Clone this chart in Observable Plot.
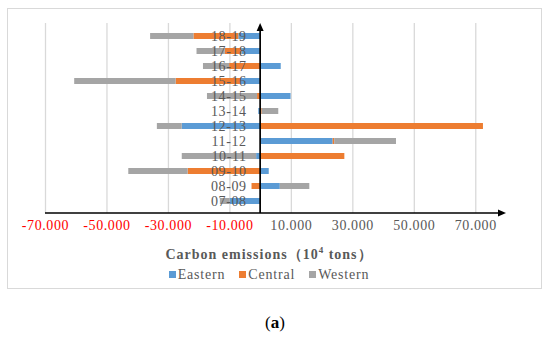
<!DOCTYPE html>
<html><head><meta charset="utf-8">
<script src="https://cdn.jsdelivr.net/npm/d3@7"></script>
<script src="https://cdn.jsdelivr.net/npm/@observablehq/plot@0.6"></script>
<style>
  body{margin:0;background:#fff;font-family:"Liberation Serif",serif;}
  #wrap{position:relative;width:550px;height:343px;overflow:hidden;background:#fff}
  #frame{position:absolute;left:7px;top:8px;width:535px;height:281px;border:1px solid #d9d9d9;box-sizing:border-box}
  #chart{position:absolute;left:0;top:0}
  #xtitle{position:absolute;left:0;top:246px;width:538px;text-align:center;line-height:18px;font-size:14px;font-weight:bold;color:#595959;letter-spacing:1px}
  #legend{position:absolute;left:0;top:266px;width:538px;text-align:center;line-height:18px;font-size:14px;color:#595959;letter-spacing:0.8px}
  #legend .item{display:inline-block;margin:0 7px}
  #legend .sw{display:inline-block;width:7px;height:7px;margin-right:2px;vertical-align:1px}
  #cap{position:absolute;left:0;top:312px;width:550px;text-align:center;line-height:22px;font-size:17px;color:#000}
</style>
</head><body>
<div id="wrap">
  <div id="frame"></div>
  <div id="chart"></div>
  <div id="xtitle">Carbon emissions（10<sup style="font-size:9px;vertical-align:6px;line-height:0">4</sup> tons）</div>
  <div id="legend"></div>
  <div id="cap">(<b>a</b>)</div>
</div>
<script>
const years = ["07-08","08-09","09-10","10-11","11-12","12-13","13-14","14-15","15-16","16-17","17-18","18-19"];
const eastern = [-9900, 6400, 2800, -1300, 23600, -25500, -600, 9900, -6500, 6700, -6100, -7100];
const central = [0, -2800, -23600, 27400, 500, 72500, 500, -1000, -21000, -10100, -5400, -14600];
const western = [-3200, 9600, -19300, -24200, 20100, -8100, 5400, -16300, -33000, -8500, -9200, -14100];
const seriesNames = ["Eastern", "Central", "Western"];
const seriesColors = ["#5b9bd5", "#ed7d31", "#a5a5a5"];
const gridTicks = [-70000, -50000, -30000, -10000, 10000, 30000, 50000, 70000];

const seriesValues = [eastern, central, western];
const rows = [];
years.forEach((yr, i) => {
  seriesNames.forEach((s, j) => rows.push({year: yr, series: s, value: seriesValues[j][i]}));
});
const fmt = d => d3.format(",")(d).replace(/,/g, ".").replace("\u2212", "-");

const plot = Plot.plot({
  width: 550, height: 245,
  marginLeft: 45, marginRight: 44, marginTop: 23, marginBottom: 32,
  style: {fontFamily: '"Liberation Serif", serif', fontSize: "14px", background: "transparent", overflow: "visible", letterSpacing: "0.6px"},
  x: {domain: [-70000, 80000], axis: null},
  y: {domain: years.slice().reverse(), axis: null, paddingInner: 0.62, paddingOuter: 0.31},
  color: {domain: seriesNames, range: seriesColors},
  marks: [
    Plot.ruleX(gridTicks, {stroke: "#d9d9d9", strokeWidth: 1.3}),
    Plot.barX(rows, Plot.stackX({x: "value", y: "year", fill: "series", order: seriesNames})),
    Plot.text(years, {x: () => 0, y: d => d, text: d => d, textAnchor: "end", dx: -14, fill: "#595959"}),
    Plot.text(gridTicks.filter(d => d < 0), {x: d => d, text: fmt, frameAnchor: "bottom", dy: 16, fill: "#ff0000"}),
    Plot.text(gridTicks.filter(d => d > 0), {x: d => d, text: fmt, frameAnchor: "bottom", dy: 16, fill: "#595959"})
  ]
});
document.getElementById("chart").appendChild(plot);

// axis lines with arrows, positioned via the plot's scales
const sx = plot.scale("x"), sy = plot.scale("y");
const x0 = sx.apply(0), xl = sx.apply(-70000), xr = sx.apply(80000);
const [yt, yb] = sy.range;
const g = d3.select(plot).append("g");
g.append("line").attr("x1", x0).attr("x2", x0).attr("y1", yb).attr("y2", yt + 6).attr("stroke", "#000").attr("stroke-width", 1.7);
g.append("path").attr("d", `M${x0},${yt} L${x0 - 3.5},${yt + 8} L${x0 + 3.5},${yt + 8} Z`).attr("fill", "#000");
g.append("line").attr("x1", xl).attr("x2", xr - 6).attr("y1", yb).attr("y2", yb).attr("stroke", "#000").attr("stroke-width", 1.5);
g.append("path").attr("d", `M${xr},${yb} L${xr - 8},${yb - 3.5} L${xr - 8},${yb + 3.5} Z`).attr("fill", "#000");

// legend
const leg = document.getElementById("legend");
seriesNames.forEach((s, i) => {
  const it = document.createElement("span");
  it.className = "item";
  it.innerHTML = `<span class="sw" style="background:${seriesColors[i]}"></span>${s}`;
  leg.appendChild(it);
});
</script>
</body></html>
